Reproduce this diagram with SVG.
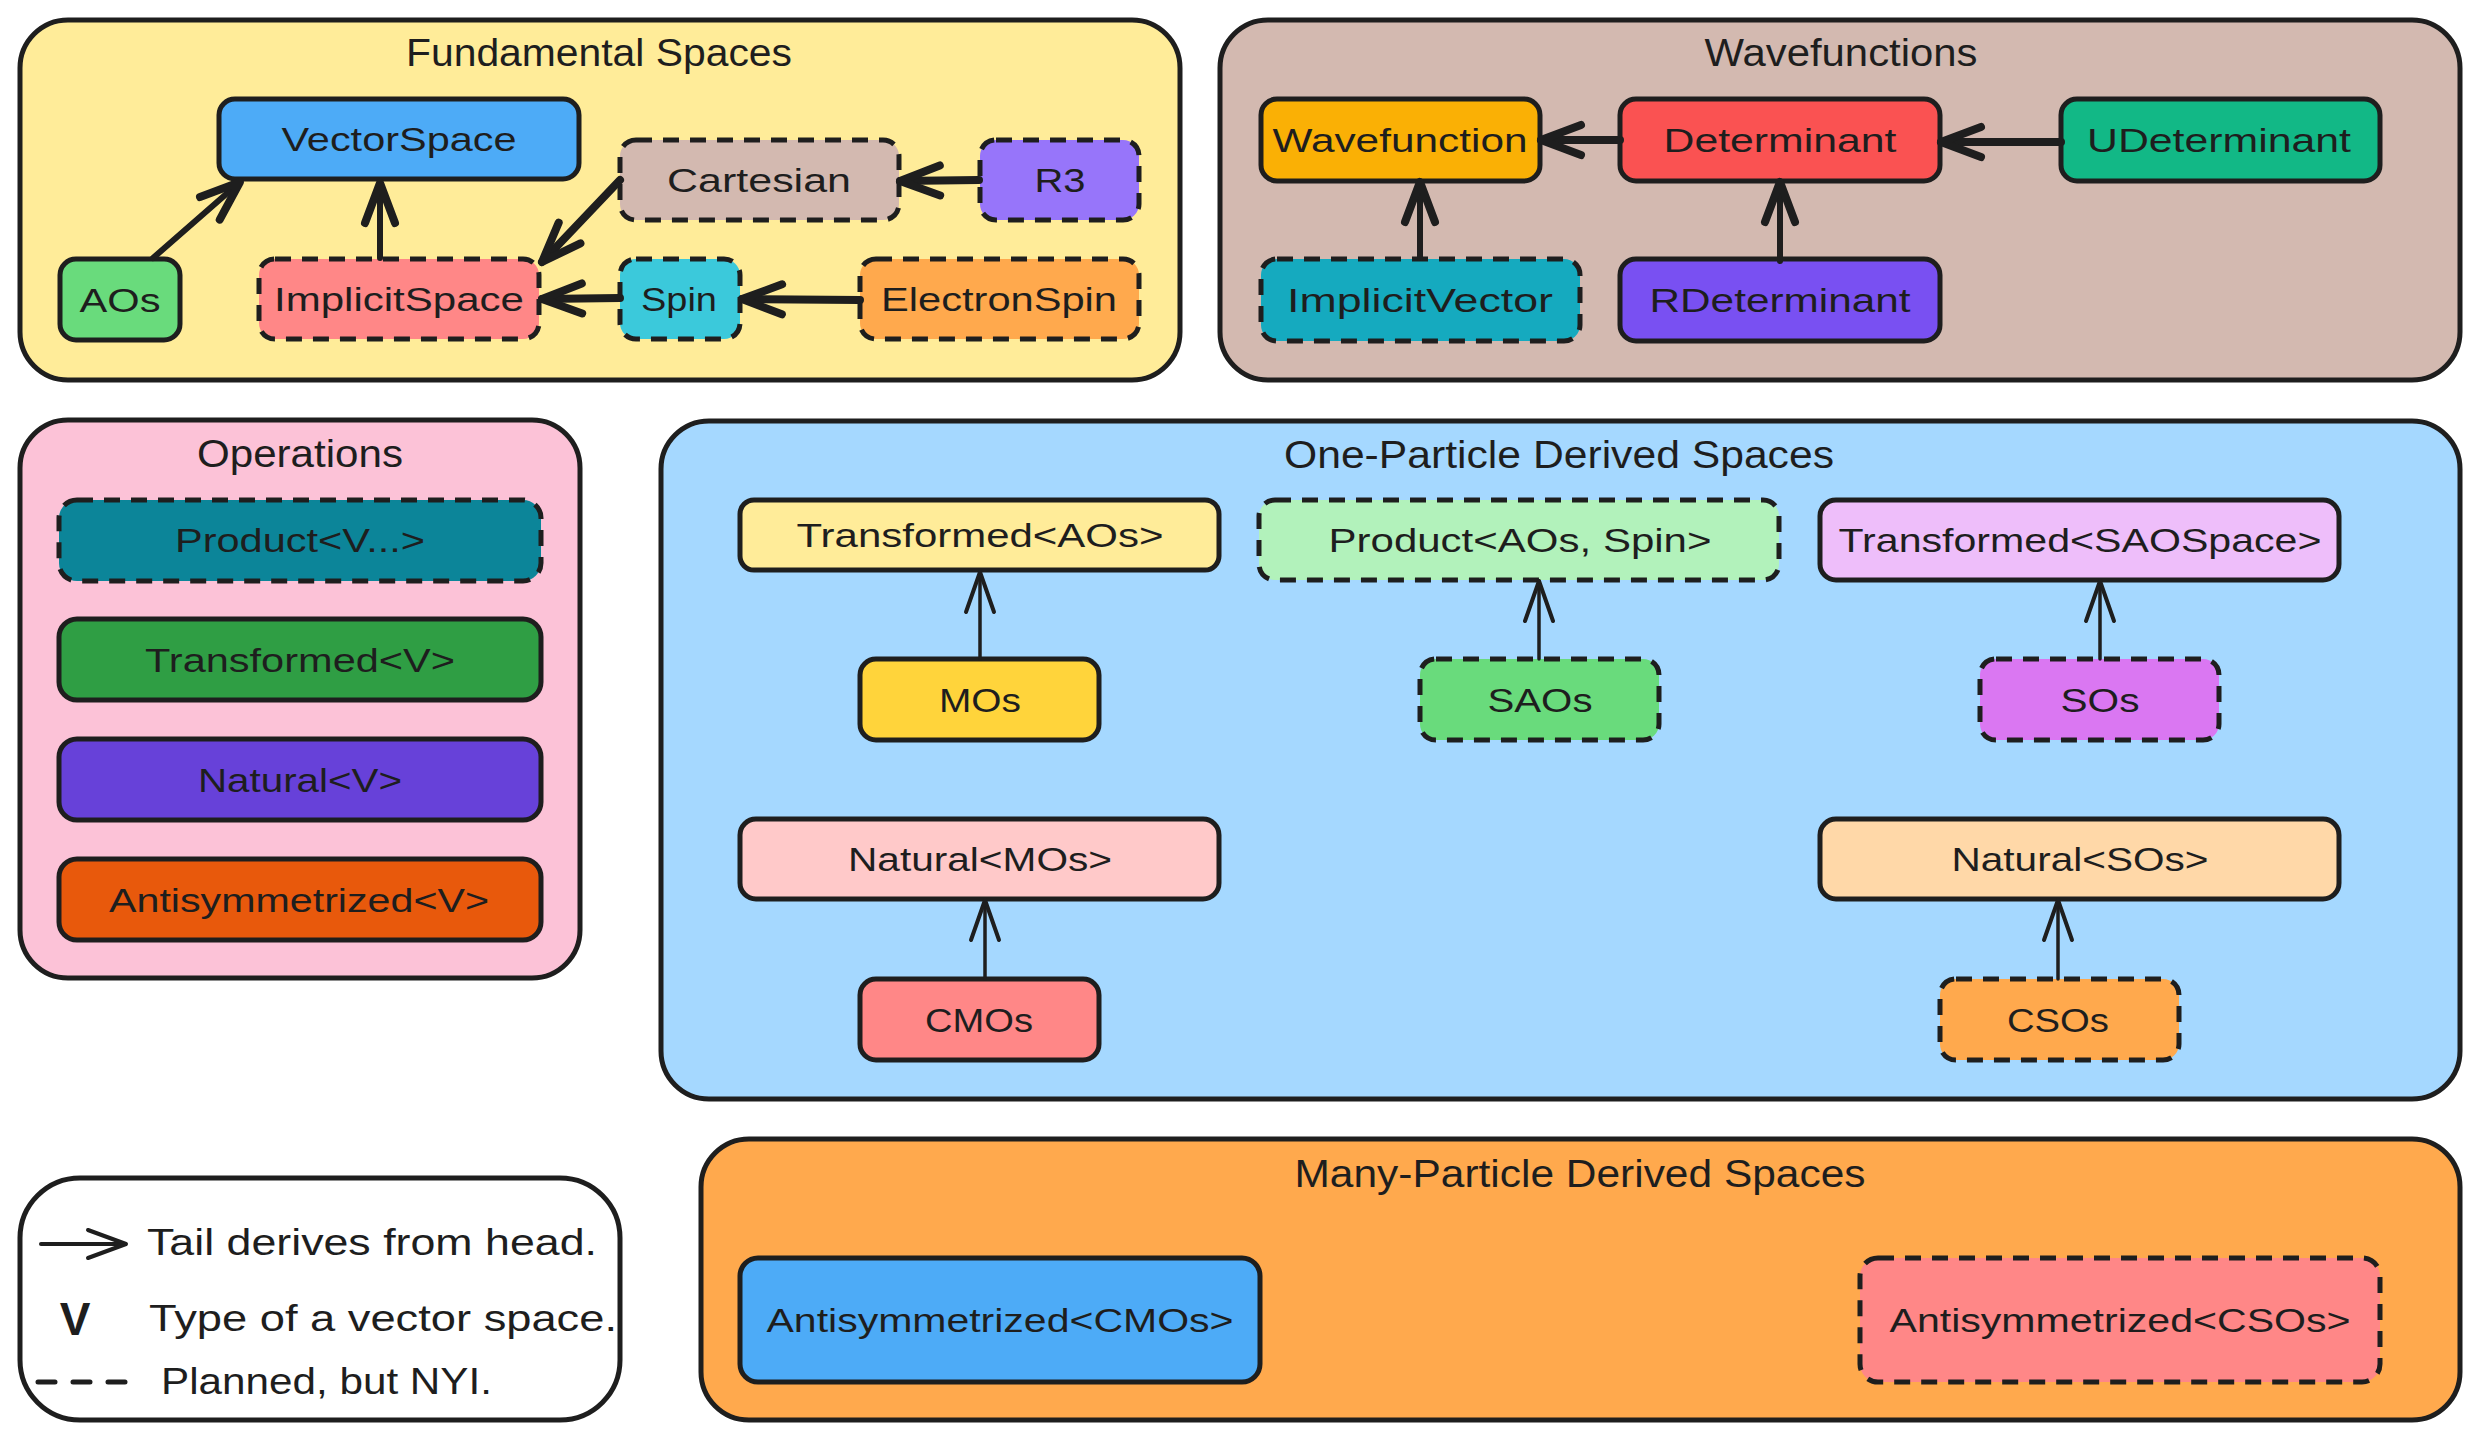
<svg xmlns="http://www.w3.org/2000/svg" width="2480" height="1440" viewBox="0 0 2480 1440">
<style>
.bg{fill:#ffffff}
.cont{stroke:#1e1e1e;stroke-width:5}
.node{stroke:#1e1e1e;stroke-width:5}
.dash{stroke-dasharray:16 11}
.title{font-family:"Liberation Sans",sans-serif;font-size:38px;fill:#1e1e1e;text-anchor:middle}
.lbl{font-family:"Liberation Sans",sans-serif;font-size:34px;fill:#1e1e1e;text-anchor:middle}
.leg{font-family:"Liberation Sans",sans-serif;font-size:36px;fill:#1e1e1e}
.legV{font-family:"Liberation Sans",sans-serif;font-size:46px;font-weight:bold;fill:#1e1e1e;text-anchor:middle}
.thick{stroke:#1e1e1e;stroke-width:8;fill:none;stroke-linecap:round;marker-end:url(#headThick)}
.mid{stroke:#1e1e1e;stroke-width:6;fill:none;stroke-linecap:round;marker-end:url(#headThick)}
.thin{stroke:#1e1e1e;stroke-width:3.5;fill:none;stroke-linecap:round;marker-end:url(#headThin)}
</style>
<defs>
<marker id="headThick" markerUnits="userSpaceOnUse" viewBox="-50 -25 60 50" refX="0" refY="0" markerWidth="60" markerHeight="50" orient="auto" overflow="visible">
<path d="M-40 -15 L0 0 L-40 15" fill="none" stroke="#1e1e1e" stroke-width="8" stroke-linecap="round" stroke-linejoin="round"/>
</marker>
<marker id="headThin" markerUnits="userSpaceOnUse" viewBox="-50 -25 60 50" refX="0" refY="0" markerWidth="60" markerHeight="50" orient="auto" overflow="visible">
<path d="M-40 -14 L0 0 L-40 14" fill="none" stroke="#1e1e1e" stroke-width="4" stroke-linecap="round" stroke-linejoin="round"/>
</marker>
</defs>
<rect class="bg" x="0" y="0" width="2480" height="1440"/>

<!-- Containers -->
<g id="fundamental-spaces">
<rect class="cont" x="20" y="20" width="1160" height="360" rx="48" fill="#ffec99"/>
<text class="title" x="599" y="66" textLength="386" lengthAdjust="spacingAndGlyphs">Fundamental Spaces</text>
</g>
<g id="wavefunctions">
<rect class="cont" x="1220" y="20" width="1240" height="360" rx="48" fill="#d3b9b0"/>
<text class="title" x="1841" y="66" textLength="273" lengthAdjust="spacingAndGlyphs">Wavefunctions</text>
</g>
<g id="operations">
<rect class="cont" x="20" y="420" width="560" height="558" rx="48" fill="#fcc2d7"/>
<text class="title" x="300" y="467" textLength="206" lengthAdjust="spacingAndGlyphs">Operations</text>
</g>
<g id="one-particle-derived-spaces">
<rect class="cont" x="661" y="421" width="1799" height="678" rx="48" fill="#a5d8ff"/>
<text class="title" x="1559" y="468" textLength="550" lengthAdjust="spacingAndGlyphs">One-Particle Derived Spaces</text>
</g>
<g id="many-particle-derived-spaces">
<rect class="cont" x="701" y="1139" width="1759" height="281" rx="48" fill="#ffa94d"/>
<text class="title" x="1580" y="1187" textLength="571" lengthAdjust="spacingAndGlyphs">Many-Particle Derived Spaces</text>
</g>
<g id="legend">
<rect class="cont" x="20" y="1178" width="600" height="242" rx="60" fill="#ffffff"/>
<path d="M41 1244 L124 1244" stroke="#1e1e1e" stroke-width="4" fill="none" stroke-linecap="round"/>
<path d="M88 1230 L126 1244 L88 1258" stroke="#1e1e1e" stroke-width="4" fill="none" stroke-linecap="round" stroke-linejoin="round"/>
<text class="leg" x="147" y="1255" textLength="450" lengthAdjust="spacingAndGlyphs">Tail derives from head.</text>
<text class="legV" x="75" y="1335">V</text>
<text class="leg" x="149" y="1331" textLength="468" lengthAdjust="spacingAndGlyphs">Type of a vector space.</text>
<path d="M38 1382 L127 1382" stroke="#1e1e1e" stroke-width="5" fill="none" stroke-dasharray="17 18" stroke-linecap="round"/>
<text class="leg" x="161" y="1394" textLength="331" lengthAdjust="spacingAndGlyphs">Planned, but NYI.</text>
</g>

<!-- Nodes: Fundamental Spaces -->
<g id="VectorSpace"><rect class="node" x="219" y="99" width="360" height="80" rx="16" fill="#4dabf7"/><text class="lbl" x="399" y="151" textLength="235" lengthAdjust="spacingAndGlyphs">VectorSpace</text></g>
<g id="Cartesian"><rect class="node dash" x="620" y="140" width="279" height="80" rx="16" fill="#d3b9b0"/><text class="lbl" x="759" y="192" textLength="184" lengthAdjust="spacingAndGlyphs">Cartesian</text></g>
<g id="R3"><rect class="node dash" x="980" y="140" width="159" height="80" rx="16" fill="#9775fa"/><text class="lbl" x="1060" y="192" textLength="51" lengthAdjust="spacingAndGlyphs">R3</text></g>
<g id="AOs"><rect class="node" x="60" y="259" width="120" height="81" rx="16" fill="#69db7c"/><text class="lbl" x="120" y="312" textLength="81" lengthAdjust="spacingAndGlyphs">AOs</text></g>
<g id="ImplicitSpace"><rect class="node dash" x="259" y="259" width="280" height="80" rx="16" fill="#ff8787"/><text class="lbl" x="399" y="311" textLength="250" lengthAdjust="spacingAndGlyphs">ImplicitSpace</text></g>
<g id="Spin"><rect class="node dash" x="620" y="259" width="120" height="80" rx="16" fill="#3bc9db"/><text class="lbl" x="679" y="311" textLength="76" lengthAdjust="spacingAndGlyphs">Spin</text></g>
<g id="ElectronSpin"><rect class="node dash" x="860" y="259" width="279" height="80" rx="16" fill="#ffa94d"/><text class="lbl" x="999" y="311" textLength="236" lengthAdjust="spacingAndGlyphs">ElectronSpin</text></g>

<!-- Nodes: Wavefunctions -->
<g id="Wavefunction"><rect class="node" x="1261" y="99" width="279" height="82" rx="16" fill="#fab005"/><text class="lbl" x="1400" y="152" textLength="255" lengthAdjust="spacingAndGlyphs">Wavefunction</text></g>
<g id="Determinant"><rect class="node" x="1620" y="99" width="320" height="82" rx="16" fill="#fa5252"/><text class="lbl" x="1780" y="152" textLength="233" lengthAdjust="spacingAndGlyphs">Determinant</text></g>
<g id="UDeterminant"><rect class="node" x="2061" y="99" width="319" height="82" rx="16" fill="#12b886"/><text class="lbl" x="2219" y="152" textLength="264" lengthAdjust="spacingAndGlyphs">UDeterminant</text></g>
<g id="ImplicitVector"><rect class="node dash" x="1261" y="259" width="319" height="82" rx="16" fill="#15aabf"/><text class="lbl" x="1420" y="312" textLength="266" lengthAdjust="spacingAndGlyphs">ImplicitVector</text></g>
<g id="RDeterminant"><rect class="node" x="1620" y="259" width="320" height="82" rx="16" fill="#7950f2"/><text class="lbl" x="1780" y="312" textLength="261" lengthAdjust="spacingAndGlyphs">RDeterminant</text></g>

<!-- Nodes: Operations -->
<g id="ProductV"><rect class="node dash" x="59" y="500" width="482" height="81" rx="18" fill="#0c8599"/><text class="lbl" x="300" y="552" textLength="250" lengthAdjust="spacingAndGlyphs">Product&lt;V...&gt;</text></g>
<g id="TransformedV"><rect class="node" x="59" y="619" width="482" height="81" rx="18" fill="#2f9e44"/><text class="lbl" x="300" y="672" textLength="310" lengthAdjust="spacingAndGlyphs">Transformed&lt;V&gt;</text></g>
<g id="NaturalV"><rect class="node" x="59" y="739" width="482" height="81" rx="18" fill="#6741d9"/><text class="lbl" x="300" y="792" textLength="204" lengthAdjust="spacingAndGlyphs">Natural&lt;V&gt;</text></g>
<g id="AntisymmetrizedV"><rect class="node" x="59" y="859" width="482" height="81" rx="18" fill="#e8590c"/><text class="lbl" x="299" y="912" textLength="380" lengthAdjust="spacingAndGlyphs">Antisymmetrized&lt;V&gt;</text></g>

<!-- Nodes: One-Particle Derived Spaces -->
<g id="TransformedAOs"><rect class="node" x="740" y="500" width="479" height="70" rx="14" fill="#ffec99"/><text class="lbl" x="980" y="547" textLength="367" lengthAdjust="spacingAndGlyphs">Transformed&lt;AOs&gt;</text></g>
<g id="ProductAOsSpin"><rect class="node dash" x="1259" y="500" width="520" height="80" rx="16" fill="#b2f2bb"/><text class="lbl" x="1520" y="552" textLength="383" lengthAdjust="spacingAndGlyphs">Product&lt;AOs, Spin&gt;</text></g>
<g id="TransformedSAOSpace"><rect class="node" x="1820" y="500" width="519" height="80" rx="16" fill="#eebefa"/><text class="lbl" x="2080" y="552" textLength="483" lengthAdjust="spacingAndGlyphs">Transformed&lt;SAOSpace&gt;</text></g>
<g id="MOs"><rect class="node" x="860" y="659" width="239" height="81" rx="16" fill="#ffd43b"/><text class="lbl" x="980" y="712" textLength="82" lengthAdjust="spacingAndGlyphs">MOs</text></g>
<g id="SAOs"><rect class="node dash" x="1420" y="659" width="239" height="81" rx="16" fill="#69db7c"/><text class="lbl" x="1540" y="712" textLength="105" lengthAdjust="spacingAndGlyphs">SAOs</text></g>
<g id="SOs"><rect class="node dash" x="1980" y="659" width="239" height="81" rx="16" fill="#da77f2"/><text class="lbl" x="2100" y="712" textLength="79" lengthAdjust="spacingAndGlyphs">SOs</text></g>
<g id="NaturalMOs"><rect class="node" x="740" y="819" width="479" height="80" rx="16" fill="#ffc9c9"/><text class="lbl" x="980" y="871" textLength="264" lengthAdjust="spacingAndGlyphs">Natural&lt;MOs&gt;</text></g>
<g id="NaturalSOs"><rect class="node" x="1820" y="819" width="519" height="80" rx="16" fill="#ffd8a8"/><text class="lbl" x="2080" y="871" textLength="257" lengthAdjust="spacingAndGlyphs">Natural&lt;SOs&gt;</text></g>
<g id="CMOs"><rect class="node" x="860" y="979" width="239" height="81" rx="16" fill="#ff8787"/><text class="lbl" x="979" y="1032" textLength="108" lengthAdjust="spacingAndGlyphs">CMOs</text></g>
<g id="CSOs"><rect class="node dash" x="1940" y="979" width="239" height="81" rx="16" fill="#ffa94d"/><text class="lbl" x="2058" y="1032" textLength="102" lengthAdjust="spacingAndGlyphs">CSOs</text></g>

<!-- Nodes: Many-Particle Derived Spaces -->
<g id="AntisymmetrizedCMOs"><rect class="node" x="740" y="1258" width="520" height="124" rx="18" fill="#4dabf7"/><text class="lbl" x="1000" y="1332" textLength="467" lengthAdjust="spacingAndGlyphs">Antisymmetrized&lt;CMOs&gt;</text></g>
<g id="AntisymmetrizedCSOs"><rect class="node dash" x="1860" y="1258" width="520" height="124" rx="18" fill="#ff8787"/><text class="lbl" x="2120" y="1332" textLength="461" lengthAdjust="spacingAndGlyphs">Antisymmetrized&lt;CSOs&gt;</text></g>

<!-- Connectors -->
<g id="connectors">
<path class="mid" d="M153 258 L240 182"/>
<path class="mid" d="M380 258 L380 183"/>
<path class="thick" d="M620 180 L542 262"/>
<path class="thick" d="M979 180 L900 181"/>
<path class="thick" d="M620 298 L542 299"/>
<path class="thick" d="M860 300 L742 299"/>
<path class="thick" d="M1620 140 L1541 140"/>
<path class="thick" d="M2061 142 L1941 142"/>
<path class="mid" d="M1420 258 L1420 182"/>
<path class="mid" d="M1780 261 L1780 182"/>
<path class="thin" d="M980 659 L980 572"/>
<path class="thin" d="M1539 659 L1539 581"/>
<path class="thin" d="M2100 659 L2100 581"/>
<path class="thin" d="M985 979 L985 900"/>
<path class="thin" d="M2058 979 L2058 900"/>
</g>
</svg>
